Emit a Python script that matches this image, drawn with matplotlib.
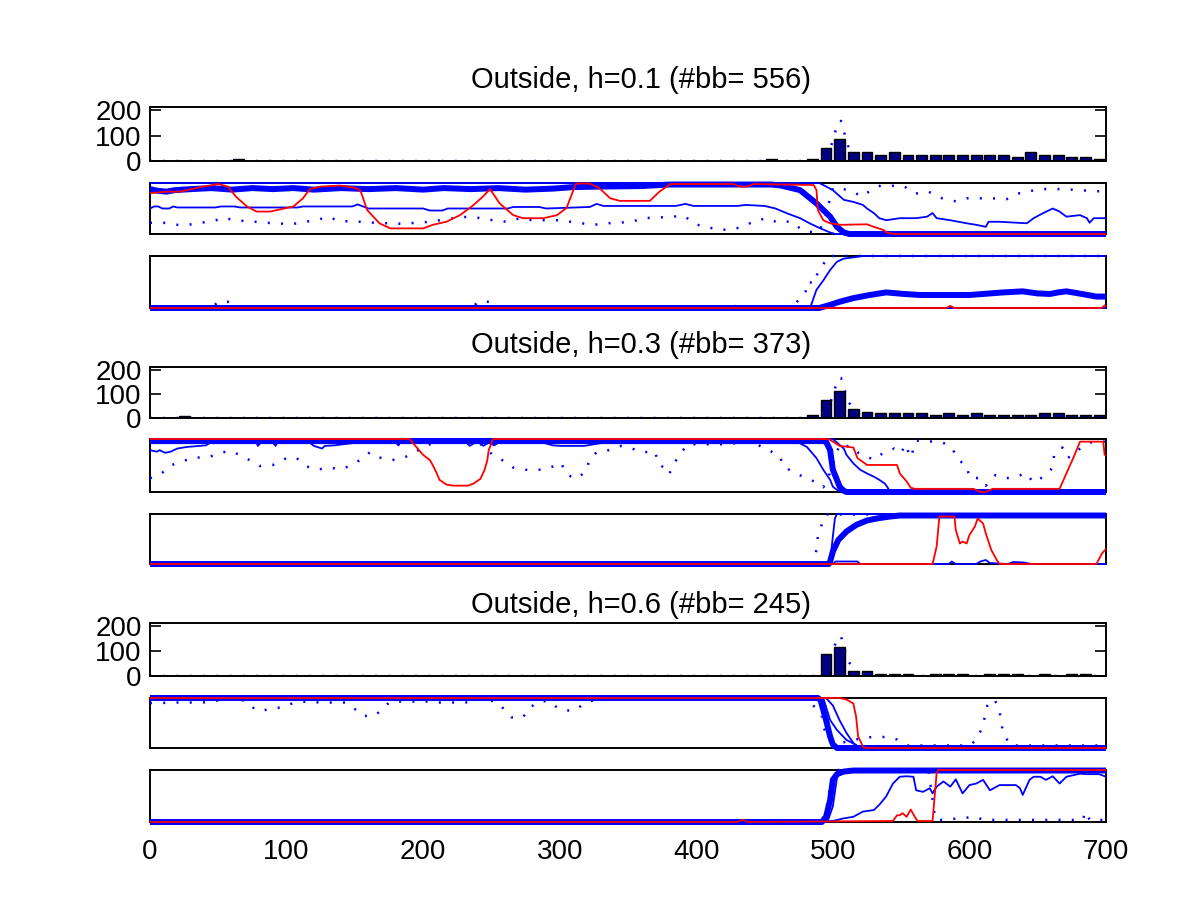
import matplotlib
matplotlib.use("Agg")
import matplotlib.pyplot as plt

plt.rcParams['font.family'] = ['Liberation Sans', 'DejaVu Sans']

titles = ['Outside, h=0.1 (#bb= 556)', 'Outside, h=0.3 (#bb= 373)', 'Outside, h=0.6 (#bb= 245)']

# histogram bins (centres) and counts
g1_bins = [65, 455, 485, 495, 505, 515, 525, 535, 545, 555, 565, 575, 585, 595, 605,
           615, 625, 635, 645, 655, 665, 675, 685, 695]
g1_counts = [8, 8, 8, 53, 87, 35, 35, 25, 35, 25, 25, 25, 25, 25, 25,
             25, 25, 17, 35, 25, 25, 17, 17, 8]
g2_bins = [25, 485, 495, 505, 515, 525, 535, 545, 555, 565, 575, 585, 595, 605,
           615, 625, 635, 645, 655, 665, 675, 685, 695]
g2_counts = [8, 11, 73, 111, 37, 27, 19, 19, 19, 19, 11, 19, 11, 19,
             11, 11, 11, 11, 19, 19, 11, 11, 11]
g3_bins = [495, 505, 515, 525, 535, 545, 555, 575, 585, 595, 615, 625, 635, 655, 675, 685]
g3_counts = [89, 115, 20, 20, 10, 10, 10, 10, 10, 10, 10, 10, 10, 10, 10, 10]

# dotted profile drawn over the histograms
g1_hist_dots = [(0, 0), (488, 0), (498, 45), (504, 157), (506, 157), (511, 60), (520, 0), (700, 0)]
g2_hist_dots = [(0, 0), (488, 0), (498, 60), (504, 166), (506, 166), (511, 70), (520, 0), (700, 0)]
g3_hist_dots = [(0, 0), (488, 0), (498, 75), (504, 158), (506, 158), (511, 60), (520, 0), (700, 0)]

# ---- group 1, upper panel
g1a_thick = [(0, 0.88), (5, 0.85), (12, 0.83), (18, 0.86), (30, 0.88), (45, 0.90), (60, 0.87),
             (75, 0.90), (90, 0.88), (105, 0.90), (120, 0.87), (140, 0.90), (160, 0.88),
             (180, 0.90), (200, 0.87), (215, 0.90), (235, 0.88), (255, 0.90), (275, 0.87),
             (295, 0.89), (310, 0.92), (330, 0.93), (360, 0.94), (380, 0.97), (455, 0.97),
             (462, 0.95), (476, 0.86), (488, 0.60), (498, 0.34), (503, 0.14), (508, 0.03),
             (512, 0.0), (700, 0.0)]
g1a_thin1 = [(0, 1.0), (490, 1.0), (493, 0.96), (500, 0.86), (508, 0.67), (515, 0.63),
             (522, 0.57), (525, 0.50), (530, 0.41), (534, 0.31), (539, 0.27), (549, 0.31),
             (561, 0.31), (569, 0.34), (573, 0.41), (576, 0.31), (586, 0.27), (598, 0.21),
             (605, 0.18), (612, 0.14), (614, 0.24), (622, 0.24), (642, 0.21), (647, 0.31),
             (654, 0.41), (661, 0.50), (666, 0.44), (671, 0.34), (681, 0.37), (686, 0.31),
             (688, 0.22), (691, 0.31), (698, 0.31), (700, 0.31)]
g1a_thin2 = [(0, 0.50), (3, 0.54), (6, 0.54), (9, 0.50), (14, 0.50), (17, 0.54), (20, 0.52),
             (48, 0.52), (52, 0.54), (62, 0.54), (66, 0.52), (108, 0.52), (112, 0.54),
             (148, 0.54), (152, 0.58), (156, 0.54), (160, 0.50), (200, 0.50), (205, 0.46),
             (214, 0.46), (218, 0.50), (262, 0.50), (266, 0.53), (285, 0.53), (290, 0.50),
             (322, 0.53), (327, 0.59), (332, 0.55), (345, 0.55), (385, 0.55), (392, 0.59),
             (398, 0.55), (430, 0.55), (436, 0.57), (450, 0.55), (458, 0.50), (466, 0.41),
             (476, 0.31), (483, 0.21), (490, 0.12), (498, 0.03), (502, 0.0), (700, 0.0)]
g1a_dots = [(0, 0.22), (10, 0.22), (19, 0.18), (28, 0.18), (37, 0.22), (46, 0.25), (54, 0.32),
            (63, 0.26), (67, 0.26), (77, 0.24), (85, 0.22), (93, 0.21), (104, 0.19),
            (112, 0.24), (121, 0.26), (130, 0.34), (139, 0.25), (148, 0.25), (165, 0.22),
            (185, 0.20), (205, 0.24), (225, 0.32), (234, 0.34), (242, 0.31), (251, 0.27),
            (261, 0.24), (271, 0.31), (280, 0.27), (298, 0.27), (308, 0.24), (316, 0.21),
            (325, 0.18), (334, 0.21), (342, 0.22), (353, 0.24), (361, 0.31), (370, 0.32),
            (383, 0.34), (391, 0.36), (399, 0.19), (408, 0.14), (416, 0.08), (426, 0.09),
            (434, 0.14), (443, 0.26), (452, 0.31), (460, 0.22), (469, 0.25), (476, 0.11),
            (482, 0.04), (490, 0.04), (495, 0.40), (500, 0.90), (505, 0.90), (515, 0.83),
            (521, 0.73), (528, 0.86), (535, 0.95), (552, 0.94), (560, 0.79), (570, 0.83),
            (580, 0.70), (590, 0.64), (598, 0.70), (617, 0.70), (627, 0.68), (635, 0.79),
            (642, 0.83), (648, 0.86), (655, 0.88), (670, 0.88), (680, 0.86), (700, 0.83)]
g1a_red = [(0, 0.80), (12, 0.83), (22, 0.83), (39, 0.93), (50, 0.98), (57, 0.93), (63, 0.73),
           (71, 0.54), (78, 0.44), (88, 0.44), (95, 0.48), (105, 0.54), (112, 0.70),
           (117, 0.88), (125, 0.93), (139, 0.95), (149, 0.91), (154, 0.86), (159, 0.47),
           (168, 0.21), (176, 0.11), (200, 0.11), (207, 0.18), (217, 0.24), (227, 0.37),
           (237, 0.57), (244, 0.74), (249, 0.88), (256, 0.60), (266, 0.37), (273, 0.31),
           (288, 0.31), (298, 0.37), (305, 0.51), (310, 0.86), (312, 0.99), (322, 0.99),
           (329, 0.90), (337, 0.70), (344, 0.65), (366, 0.65), (373, 0.83), (381, 0.98),
           (427, 0.98), (432, 0.93), (437, 0.93), (442, 0.98), (486, 0.96), (488, 0.86),
           (489, 0.47), (493, 0.27), (498, 0.21), (505, 0.18), (525, 0.19), (530, 0.14),
           (537, 0.08), (540, 0.02), (545, 0.0), (700, 0.0)]

# ---- group 1, lower panel
g1b_thick = [(0, 0), (490, 0), (498, 0.06), (505, 0.12), (515, 0.19), (527, 0.25), (539, 0.30),
             (552, 0.27), (564, 0.25), (600, 0.25), (625, 0.30), (639, 0.32), (650, 0.28),
             (659, 0.27), (665, 0.30), (671, 0.32), (678, 0.29), (693, 0.22), (700, 0.22)]
g1b_thin1 = [(0, 0), (481, 0), (484, 0.05), (488, 0.35), (493, 0.53), (498, 0.73),
             (503, 0.89), (508, 0.95), (517, 0.98), (521, 1.0), (700, 1.0)]
g1b_thin2 = [(0, 0), (700, 0)]
g1b_dots = [(0, 0), (45, 0), (50, 0.12), (57, 0.12), (62, 0), (236, 0), (240, 0.12),
            (249, 0.12), (253, 0), (425, 0), (427, 0.06), (430, 0), (470, 0), (475, 0.16),
            (480, 0.30), (481, 0.50), (487, 0.48), (489, 0.70), (493, 0.84), (497, 1.0),
            (700, 1.0)]
g1b_red = [(0, 0), (583, 0), (586, 0.04), (589, 0), (697, 0), (699, 0.05), (700, 0.03)]

# ---- group 2, upper panel
g2a_thick = [(0, 0.96), (492, 0.96), (495, 0.95), (498, 0.79), (499, 0.60), (500, 0.42),
             (503, 0.23), (505, 0.10), (508, 0.02), (510, 0.0), (700, 0.0)]
g2a_thin1 = [(0, 0.79), (5, 0.76), (7, 0.79), (11, 0.74), (15, 0.76), (20, 0.82), (27, 0.85),
             (41, 0.88), (44, 0.93), (78, 0.93), (79, 0.87), (81, 0.93), (90, 0.93),
             (92, 0.87), (93, 0.93), (117, 0.93), (120, 0.87), (126, 0.82), (128, 0.87),
             (135, 0.88), (151, 0.93), (180, 0.93), (182, 0.88), (183, 0.93), (232, 0.93),
             (234, 0.87), (238, 0.93), (242, 0.93), (244, 0.87), (248, 0.93), (252, 0.88),
             (255, 0.93), (288, 0.93), (295, 0.88), (301, 0.87), (318, 0.87), (332, 0.93),
             (475, 0.93), (481, 0.85), (488, 0.64), (493, 0.42), (498, 0.23), (500, 0.10),
             (503, 0.04), (506, 0.0), (700, 0.0)]
g2a_thin2 = [(0, 1.0), (500, 1.0), (508, 0.82), (510, 0.70), (515, 0.54), (520, 0.42),
             (525, 0.35), (530, 0.29), (534, 0.23), (538, 0.16), (540, 0.09), (542, 0.0),
             (700, 0.0)]
g2a_dots = [(0, 0.26), (8, 0.34), (15, 0.50), (24, 0.58), (32, 0.65), (40, 0.65), (49, 0.70),
            (57, 0.78), (66, 0.70), (73, 0.60), (80, 0.49), (90, 0.51), (100, 0.64),
            (107, 0.65), (114, 0.49), (122, 0.42), (131, 0.46), (140, 0.43), (148, 0.51),
            (156, 0.64), (161, 0.75), (168, 0.65), (177, 0.60), (186, 0.65), (193, 0.73),
            (200, 0.85), (210, 0.95), (240, 0.95), (251, 0.70), (258, 0.60), (266, 0.46),
            (275, 0.42), (285, 0.42), (293, 0.46), (301, 0.55), (305, 0.33), (312, 0.25),
            (319, 0.38), (322, 0.62), (327, 0.75), (336, 0.79), (345, 0.87), (353, 0.82),
            (360, 0.75), (370, 0.76), (372, 0.53), (377, 0.45), (380, 0.33), (384, 0.55),
            (389, 0.75), (394, 0.90), (421, 0.90), (440, 0.95), (453, 0.79), (461, 0.68),
            (464, 0.48), (472, 0.36), (480, 0.27), (488, 0.18), (493, 0.09), (497, 0.30),
            (505, 0.90), (515, 0.84), (519, 0.73), (530, 0.61), (537, 0.74), (545, 0.82),
            (550, 0.73), (553, 0.90), (557, 0.65), (561, 0.97), (580, 0.94), (587, 0.84),
            (592, 0.60), (598, 0.50), (600, 0.27), (608, 0.26), (612, 0.12), (619, 0.32),
            (627, 0.26), (635, 0.29), (641, 0.36), (647, 0.18), (655, 0.30), (661, 0.46),
            (662, 0.70), (668, 0.84), (672, 0.64), (680, 0.80), (690, 0.95), (700, 0.95)]
g2a_red = [(0, 1.0), (190, 1.0), (195, 0.85), (200, 0.70), (205, 0.60), (207, 0.51),
           (210, 0.35), (212, 0.23), (217, 0.14), (222, 0.12), (233, 0.12), (237, 0.16),
           (242, 0.25), (245, 0.42), (247, 0.60), (248, 0.79), (250, 0.92), (251, 1.0),
           (497, 1.0), (500, 0.95), (505, 0.87), (515, 0.84), (518, 0.64), (525, 0.51),
           (547, 0.51), (549, 0.35), (554, 0.20), (557, 0.08), (560, 0.06), (603, 0.06),
           (608, 0.0), (612, 0.0), (617, 0.06), (666, 0.06), (671, 0.35), (676, 0.64),
           (681, 0.95), (698, 0.95), (699, 0.70), (700, 0.70)]

# ---- group 2, lower panel
g2b_thick = [(0, 0), (497, 0), (498, 0.05), (500, 0.25), (504, 0.48), (510, 0.65), (517, 0.78),
             (525, 0.87), (532, 0.91), (542, 0.95), (549, 0.97), (700, 0.97)]
g2b_thin1 = [(0, 0), (497, 0), (498, 0.05), (500, 0.55), (501.5, 0.91), (503, 1.0), (700, 1.0)]
g2b_thin2 = [(0, 0), (500, 0), (502, 0.05), (518, 0.05), (520, 0.0), (585, 0), (587, 0.05),
             (590, 0), (605, 0), (608, 0.05), (612, 0.08), (615, 0.02), (628, 0), (632, 0.04),
             (640, 0.03), (645, 0.0), (700, 0)]
g2b_dots = [(0, 0), (486, 0), (488, 0.29), (489, 0.55), (492, 0.80), (495, 0.99), (700, 0.99)]
g2b_red = [(0, 0), (573, 0), (576, 0.35), (578, 0.95), (589, 0.95), (590, 0.68), (593, 0.41),
           (595, 0.45), (598, 0.41), (600, 0.58), (604, 0.75), (606, 0.91), (610, 0.81),
           (612, 0.61), (616, 0.28), (620, 0.08), (622, 0), (693, 0), (697, 0.21), (700, 0.30)]

# ---- group 3, upper panel
g3a_thick = [(0, 1.0), (489, 1.0), (491, 0.96), (495, 0.56), (498, 0.23), (500, 0.07),
             (503, 0.0), (700, 0.0)]
g3a_thin1 = [(0, 1.0), (493, 1.0), (498, 0.56), (503, 0.36), (510, 0.16), (515, 0.09),
             (520, 0.0), (700, 0.0)]
g3a_thin2 = [(0, 1.0), (495, 1.0), (500, 0.85), (505, 0.55), (510, 0.30), (515, 0.10),
             (520, 0.0), (700, 0.0)]
g3a_dots = [(0, 0.90), (8, 0.90), (18, 0.91), (28, 0.91), (38, 0.91), (47, 0.93), (55, 0.99),
            (65, 0.99), (73, 0.89), (77, 0.76), (81, 0.75), (90, 0.78), (98, 0.83),
            (106, 0.91), (115, 0.93), (124, 0.91), (134, 0.91), (143, 0.91), (151, 0.76),
            (156, 0.64), (165, 0.65), (171, 0.81), (176, 0.93), (186, 0.93), (203, 0.93),
            (212, 0.91), (222, 0.91), (231, 0.91), (235, 0.93), (245, 0.99), (255, 0.90),
            (259, 0.78), (265, 0.61), (273, 0.61), (278, 0.81), (286, 0.94), (293, 0.93),
            (298, 0.81), (303, 0.75), (311, 0.75), (319, 0.91), (327, 0.97), (340, 0.99),
            (480, 0.99), (488, 0.79), (492, 0.63), (493, 0.42), (497, 0.19), (505, 0.10),
            (515, 0.15), (522, 0.21), (531, 0.22), (539, 0.22), (547, 0.17), (555, 0.05),
            (600, 0.05), (605, 0.16), (608, 0.33), (611, 0.59), (613, 0.84), (618, 0.98),
            (622, 0.79), (623, 0.52), (625, 0.29), (630, 0.05), (700, 0.05)]
g3a_red = [(0, 1.0), (505, 1.0), (510, 0.97), (515, 0.89), (517, 0.63), (518.5, 0.23),
           (521, 0.09), (522, 0.02), (525, 0.0), (700, 0.0)]

# ---- group 3, lower panel
g3b_thick = [(0, 0), (492, 0), (495, 0.10), (498, 0.42), (500, 0.81), (503, 0.92),
             (508, 0.97), (515, 0.99), (700, 0.99)]
g3b_thin1 = [(0, 0), (496, 0), (500, 0.30), (503, 0.85), (507, 1.0), (700, 1.0)]
g3b_thin2 = [(0, 0), (500, 0.02), (508, 0.07), (515, 0.10), (522, 0.20), (530, 0.23),
             (534, 0.33), (539, 0.49), (544, 0.74), (549, 0.87), (554, 0.88), (559, 0.87),
             (561, 0.61), (566, 0.58), (571, 0.65), (573, 0.55), (576, 0.68), (581, 0.78),
             (586, 0.68), (590, 0.82), (595, 0.55), (600, 0.71), (605, 0.74), (610, 0.81),
             (615, 0.61), (622, 0.71), (634, 0.71), (637, 0.65), (639, 0.52), (644, 0.81),
             (647, 0.87), (652, 0.87), (656, 0.81), (661, 0.88), (666, 0.74), (671, 0.87),
             (681, 0.93), (686, 0.92), (695, 0.92), (700, 0.87)]
g3b_dots = [(0, 0), (492, 0), (495, 0.20), (498, 0.70), (501, 1.0), (570, 1.0), (575, 0.05),
            (580, 0.04), (605, 0.10), (610, 0.04), (683, 0.04), (685, 0.20), (688, 0.04),
            (700, 0.04)]
g3b_red = [(0, 0), (430, 0), (434, 0.04), (438, 0), (544, 0.02), (547, 0.13), (549, 0.13),
           (551, 0.17), (554, 0.10), (557, 0.24), (560, 0.10), (562, 0.02), (573, 0.02),
           (576, 0.94), (577, 1.0), (700, 1.0)]

groups = [
    (titles[0], g1_bins, g1_counts, g1_hist_dots,
     [g1a_thick, g1a_thin1, g1a_thin2, g1a_dots, g1a_red],
     [g1b_thick, g1b_thin1, g1b_thin2, g1b_dots, g1b_red]),
    (titles[1], g2_bins, g2_counts, g2_hist_dots,
     [g2a_thick, g2a_thin1, g2a_thin2, g2a_dots, g2a_red],
     [g2b_thick, g2b_thin1, g2b_thin2, g2b_dots, g2b_red]),
    (titles[2], g3_bins, g3_counts, g3_hist_dots,
     [g3a_thick, g3a_thin1, g3a_thin2, g3a_dots, g3a_red],
     [g3b_thick, g3b_thin1, g3b_thin2, g3b_dots, g3b_red]),
]

# axes boxes in pixels (top, bottom) for the 1200x910 canvas
W, H = 1200.0, 910.0
x0, x1 = 150, 1106
boxes = [
    [(107, 161), (183, 234), (256, 308)],
    [(367, 418), (439, 492), (514, 564)],
    [(623, 676), (698, 748), (770, 822)],
]
title_y = [80, 345, 605]

dotted = (0, (0.8, 4.5))
styles = [
    dict(color='b', lw=4.3),
    dict(color='b', lw=1.3),
    dict(color='b', lw=1.3),
    dict(color='b', lw=1.8, ls=dotted),
    dict(color='r', lw=1.3),
]

FS = 21
TICK_FS = 20
fig = plt.figure(figsize=(12, 9.1), dpi=100)


def make_ax(top, bottom):
    ax = fig.add_axes([x0 / W, 1 - bottom / H, (x1 - x0) / W, (bottom - top) / H])
    ax.set_xlim(0, 700)
    for s in ax.spines.values():
        s.set_linewidth(1.4)
    ax.tick_params(axis='x', length=0, labelbottom=False)
    return ax


for gi, (title, bins, counts, hdots, upper, lower) in enumerate(groups):
    bx = boxes[gi]
    ax = make_ax(*bx[0])
    ax.plot(*zip(*hdots), color='b', lw=1.8, ls=dotted, zorder=1)
    ax.bar(bins, counts, width=8, color='#000080', edgecolor='k', linewidth=1.0, zorder=2)
    ax.set_ylim(0, 212)
    ax.set_yticks([0, 100, 200])
    ax.tick_params(axis='y', direction='in', length=8, width=1.2, right=True,
                   labelsize=TICK_FS, pad=6)
    fig.text(641 / W, 1 - title_y[gi] / H, title, ha='center', va='center', fontsize=FS)

    for pi, series in enumerate((upper, lower)):
        ax = make_ax(*bx[pi + 1])
        ax.set_ylim(0, 1)
        ax.set_yticks([])
        for pts, st in zip(series, styles):
            xs, ys = zip(*pts)
            ax.plot(xs, ys, clip_on=False, zorder=3, solid_capstyle='butt', **st)

# x tick labels only on the last panel
ax.set_xticks(range(0, 701, 100))
ax.tick_params(axis='x', labelbottom=True, labelsize=TICK_FS, pad=12)

fig.savefig('out.png', dpi=100)
